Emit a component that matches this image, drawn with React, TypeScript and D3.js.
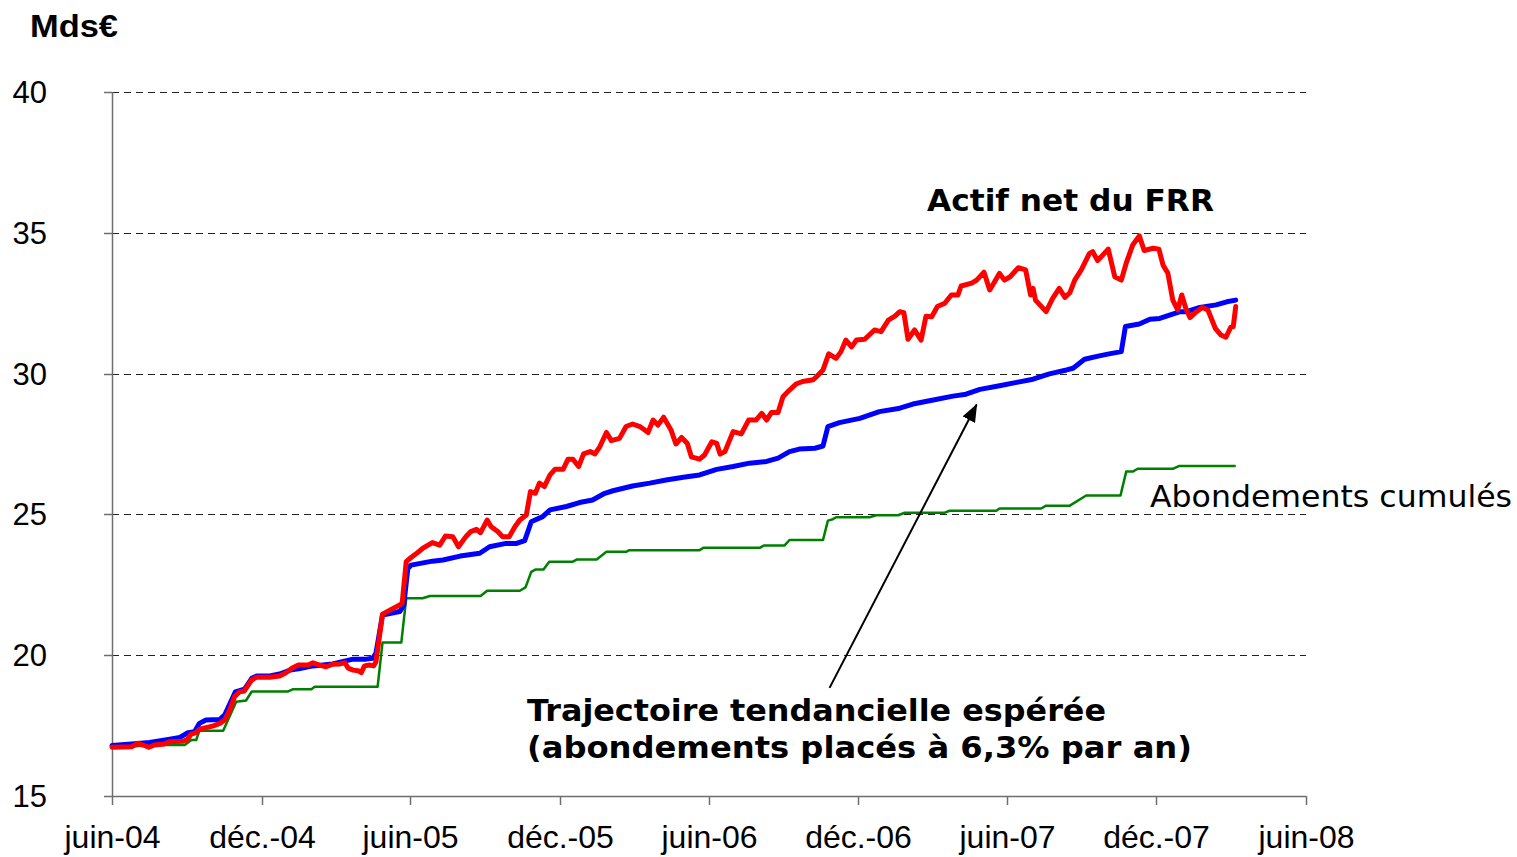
import React from "react";
import * as d3 from "d3";

// Fonds de réserve pour les retraites - Mds€ (lecture approximative du graphique)
const xTickDates = ["2004-06-01", "2004-12-01", "2005-06-01", "2005-12-01", "2006-06-01", "2006-12-01", "2007-06-01", "2007-12-01", "2008-06-01"];
const xTickLabels = ["juin-04", "déc.-04", "juin-05", "déc.-05", "juin-06", "déc.-06", "juin-07", "déc.-07", "juin-08"];
const yTicks = [15, 20, 25, 30, 35, 40];
const gridValues = [20, 25, 30, 35, 40];

// Actif net du FRR (rouge)
const actifNet: [string, number][] = [
  ["2004-06-01", 16.73], ["2004-06-25", 16.75], ["2004-07-03", 16.87], ["2004-07-09", 16.81], ["2004-07-16", 16.73],
  ["2004-07-23", 16.81], ["2004-08-04", 16.85], ["2004-08-10", 16.93], ["2004-08-27", 16.94], ["2004-09-01", 17.01],
  ["2004-09-06", 17.2], ["2004-09-12", 17.25], ["2004-09-16", 17.37], ["2004-10-03", 17.49], ["2004-10-11", 17.58],
  ["2004-10-17", 17.7], ["2004-10-23", 18.05], ["2004-10-29", 18.53], ["2004-11-04", 18.7], ["2004-11-10", 18.73],
  ["2004-11-19", 19.12], ["2004-11-25", 19.22], ["2004-12-11", 19.22], ["2004-12-23", 19.26], ["2004-12-31", 19.38],
  ["2005-01-07", 19.54], ["2005-01-15", 19.65], ["2005-01-27", 19.65], ["2005-02-02", 19.73], ["2005-02-10", 19.65],
  ["2005-02-18", 19.59], ["2005-02-26", 19.68], ["2005-03-07", 19.69], ["2005-03-13", 19.73], ["2005-03-17", 19.54],
  ["2005-03-23", 19.47], ["2005-03-29", 19.45], ["2005-04-02", 19.38], ["2005-04-06", 19.62], ["2005-04-12", 19.65],
  ["2005-04-17", 19.62], ["2005-04-20", 19.77], ["2005-04-28", 21.46], ["2005-05-07", 21.6], ["2005-05-19", 21.78],
  ["2005-05-22", 21.84], ["2005-05-27", 23.32], ["2005-06-02", 23.47], ["2005-06-08", 23.6], ["2005-06-16", 23.79],
  ["2005-06-28", 24.0], ["2005-07-07", 23.91], ["2005-07-14", 24.23], ["2005-07-23", 24.21], ["2005-07-30", 23.85],
  ["2005-08-08", 24.21], ["2005-08-14", 24.39], ["2005-08-21", 24.47], ["2005-08-26", 24.35], ["2005-09-03", 24.8],
  ["2005-09-08", 24.56], ["2005-09-16", 24.39], ["2005-09-22", 24.21], ["2005-09-30", 24.21], ["2005-10-07", 24.56],
  ["2005-10-13", 24.8], ["2005-10-21", 24.98], ["2005-10-26", 25.81], ["2005-11-01", 25.75], ["2005-11-06", 26.11],
  ["2005-11-12", 25.99], ["2005-11-19", 26.4], ["2005-11-25", 26.6], ["2005-12-05", 26.6], ["2005-12-11", 26.96],
  ["2005-12-17", 26.96], ["2005-12-24", 26.7], ["2005-12-30", 27.15], ["2006-01-07", 27.23], ["2006-01-13", 27.15],
  ["2006-01-19", 27.41], ["2006-01-27", 27.91], ["2006-02-02", 27.62], ["2006-02-12", 27.7], ["2006-02-20", 28.12],
  ["2006-02-28", 28.21], ["2006-03-09", 28.12], ["2006-03-19", 27.91], ["2006-03-25", 28.35], ["2006-03-31", 28.17],
  ["2006-04-07", 28.45], ["2006-04-16", 28.0], ["2006-04-22", 27.5], ["2006-04-29", 27.73], ["2006-05-06", 27.52],
  ["2006-05-11", 27.04], ["2006-05-21", 26.96], ["2006-05-27", 27.11], ["2006-06-05", 27.58], ["2006-06-11", 27.52],
  ["2006-06-15", 27.14], ["2006-06-21", 27.23], ["2006-07-01", 27.94], ["2006-07-11", 27.86], ["2006-07-20", 28.35],
  ["2006-07-29", 28.35], ["2006-08-05", 28.59], ["2006-08-11", 28.35], ["2006-08-17", 28.62], ["2006-08-25", 28.62],
  ["2006-08-31", 29.18], ["2006-09-06", 29.36], ["2006-09-16", 29.63], ["2006-09-24", 29.72], ["2006-10-07", 29.78],
  ["2006-10-11", 29.89], ["2006-10-19", 30.13], ["2006-10-26", 30.7], ["2006-11-04", 30.54], ["2006-11-10", 30.78],
  ["2006-11-16", 31.19], ["2006-11-23", 30.95], ["2006-11-29", 31.19], ["2006-12-09", 31.22], ["2006-12-21", 31.55],
  ["2006-12-29", 31.49], ["2007-01-07", 31.9], ["2007-01-15", 32.04], ["2007-01-21", 32.2], ["2007-01-26", 32.16],
  ["2007-01-31", 31.22], ["2007-02-08", 31.55], ["2007-02-16", 31.19], ["2007-02-22", 32.04], ["2007-03-01", 32.02],
  ["2007-03-08", 32.38], ["2007-03-17", 32.5], ["2007-03-25", 32.79], ["2007-04-02", 32.79], ["2007-04-06", 33.11],
  ["2007-04-19", 33.21], ["2007-04-25", 33.32], ["2007-05-04", 33.6], ["2007-05-11", 32.97], ["2007-05-17", 33.26],
  ["2007-05-23", 33.56], ["2007-05-29", 33.32], ["2007-06-05", 33.44], ["2007-06-15", 33.76], ["2007-06-24", 33.68],
  ["2007-06-30", 32.79], ["2007-07-03", 33.03], ["2007-07-06", 32.61], ["2007-07-19", 32.2], ["2007-07-27", 32.67],
  ["2007-08-04", 33.03], ["2007-08-11", 32.71], ["2007-08-17", 32.87], ["2007-08-23", 33.32], ["2007-08-31", 33.68],
  ["2007-09-10", 34.27], ["2007-09-14", 34.33], ["2007-09-20", 34.01], ["2007-10-03", 34.42], ["2007-10-11", 33.44],
  ["2007-10-19", 33.32], ["2007-10-25", 33.92], ["2007-11-02", 34.57], ["2007-11-10", 34.89], ["2007-11-16", 34.37],
  ["2007-11-27", 34.45], ["2007-12-04", 34.42], ["2007-12-09", 33.86], ["2007-12-15", 33.56], ["2007-12-21", 32.61],
  ["2007-12-27", 32.26], ["2008-01-01", 32.79], ["2008-01-06", 32.31], ["2008-01-11", 31.99], ["2008-01-19", 32.2],
  ["2008-01-26", 32.35], ["2008-02-02", 32.26], ["2008-02-11", 31.61], ["2008-02-18", 31.37], ["2008-02-24", 31.29],
  ["2008-03-01", 31.65], ["2008-03-04", 31.67], ["2008-03-07", 32.38],
];

// Trajectoire tendancielle espérée (bleu)
const trajectoire: [string, number][] = [
  ["2004-06-01", 16.79], ["2004-06-25", 16.85], ["2004-07-17", 16.9], ["2004-08-07", 17.0], ["2004-08-23", 17.08],
  ["2004-09-02", 17.25], ["2004-09-10", 17.28], ["2004-09-16", 17.58], ["2004-09-24", 17.7], ["2004-10-11", 17.72],
  ["2004-10-17", 17.88], ["2004-10-30", 18.7], ["2004-11-10", 18.79], ["2004-11-19", 19.18], ["2004-11-25", 19.26],
  ["2004-12-11", 19.26], ["2004-12-23", 19.33], ["2005-01-05", 19.47], ["2005-01-17", 19.53], ["2005-02-02", 19.62],
  ["2005-02-26", 19.69], ["2005-03-23", 19.86], ["2005-04-08", 19.86], ["2005-04-16", 19.89], ["2005-04-20", 20.07],
  ["2005-04-28", 21.43], ["2005-05-19", 21.55], ["2005-05-24", 21.78], ["2005-05-29", 23.08], ["2005-06-02", 23.2],
  ["2005-06-28", 23.34], ["2005-07-11", 23.38], ["2005-08-01", 23.52], ["2005-08-25", 23.62], ["2005-09-06", 23.85],
  ["2005-09-26", 23.97], ["2005-10-09", 23.97], ["2005-10-19", 24.07], ["2005-10-27", 24.74], ["2005-11-10", 24.92],
  ["2005-11-19", 25.16], ["2005-12-09", 25.28], ["2005-12-25", 25.42], ["2006-01-10", 25.51], ["2006-01-25", 25.75],
  ["2006-02-04", 25.84], ["2006-02-28", 26.01], ["2006-03-21", 26.11], ["2006-04-10", 26.22], ["2006-05-01", 26.32],
  ["2006-05-21", 26.4], ["2006-06-11", 26.6], ["2006-07-01", 26.7], ["2006-07-21", 26.82], ["2006-08-11", 26.88],
  ["2006-08-25", 27.0], ["2006-09-08", 27.23], ["2006-09-20", 27.32], ["2006-10-09", 27.35], ["2006-10-19", 27.43],
  ["2006-10-25", 28.12], ["2006-11-08", 28.26], ["2006-12-03", 28.41], ["2006-12-27", 28.65], ["2007-01-21", 28.77],
  ["2007-02-06", 28.92], ["2007-03-03", 29.06], ["2007-03-27", 29.2], ["2007-04-12", 29.27], ["2007-04-29", 29.44],
  ["2007-05-23", 29.57], ["2007-06-13", 29.69], ["2007-07-03", 29.8], ["2007-07-23", 29.99], ["2007-08-13", 30.13],
  ["2007-08-21", 30.19], ["2007-09-04", 30.51], ["2007-09-22", 30.63], ["2007-10-04", 30.7], ["2007-10-19", 30.78],
  ["2007-10-24", 31.67], ["2007-11-10", 31.76], ["2007-11-23", 31.93], ["2007-12-05", 31.96], ["2007-12-17", 32.08],
  ["2007-12-30", 32.2], ["2008-01-07", 32.2], ["2008-01-23", 32.35], ["2008-02-12", 32.44], ["2008-02-25", 32.55],
  ["2008-03-07", 32.61],
];

// Abondements cumulés (vert)
const abondements: [string, number][] = [
  ["2004-06-01", 16.73], ["2004-07-30", 16.81], ["2004-08-29", 16.81], ["2004-09-06", 16.99], ["2004-09-12", 16.99],
  ["2004-09-16", 17.32], ["2004-10-15", 17.32], ["2004-10-31", 18.35], ["2004-11-12", 18.39], ["2004-11-19", 18.71],
  ["2005-01-02", 18.71], ["2005-01-08", 18.79], ["2005-01-31", 18.79], ["2005-02-04", 18.88], ["2005-04-22", 18.88],
  ["2005-04-28", 20.45], ["2005-05-21", 20.45], ["2005-05-27", 22.02], ["2005-06-16", 22.02], ["2005-06-25", 22.1],
  ["2005-08-26", 22.1], ["2005-09-03", 22.29], ["2005-10-13", 22.29], ["2005-10-20", 22.41], ["2005-10-27", 22.96],
  ["2005-11-01", 23.04], ["2005-11-11", 23.04], ["2005-11-18", 23.32], ["2005-12-17", 23.32], ["2005-12-22", 23.4],
  ["2006-01-15", 23.4], ["2006-01-27", 23.67], ["2006-02-20", 23.67], ["2006-02-24", 23.73], ["2006-05-21", 23.73],
  ["2006-05-26", 23.82], ["2006-08-03", 23.82], ["2006-08-08", 23.9], ["2006-09-02", 23.9], ["2006-09-08", 24.09],
  ["2006-10-19", 24.09], ["2006-10-25", 24.78], ["2006-10-31", 24.83], ["2006-11-04", 24.9], ["2006-12-15", 24.9],
  ["2006-12-23", 24.97], ["2007-01-19", 24.97], ["2007-01-27", 25.06], ["2007-03-17", 25.06], ["2007-03-23", 25.13],
  ["2007-05-19", 25.13], ["2007-05-23", 25.21], ["2007-07-13", 25.21], ["2007-07-19", 25.31], ["2007-08-17", 25.31],
  ["2007-09-06", 25.67], ["2007-10-18", 25.67], ["2007-10-25", 26.52], ["2007-11-02", 26.52], ["2007-11-08", 26.62],
  ["2007-12-21", 26.62], ["2007-12-29", 26.72], ["2008-03-07", 26.72],
];

// flèche de l'annotation (date, valeur)
const arrowFrom: [string, number] = ["2006-10-27", 18.84];
const arrowTo: [string, number] = ["2007-04-25", 28.9];

const parse = d3.timeParse("%Y-%m-%d");

export default function App() {
  const width = 1517;
  const height = 857;

  const x = d3.scaleTime()
    .domain([parse("2004-06-01") as Date, parse("2008-06-01") as Date])
    .range([112, 1306]);
  const y = d3.scaleLinear().domain([15, 40]).range([796, 92]);

  const line = d3.line<[string, number]>()
    .x(d => x(parse(d[0]) as Date))
    .y(d => y(d[1]))
    .curve(d3.curveLinear);

  const axisColor = "#6e6e6e";
  const sans = "'Liberation Sans', Arial, sans-serif";
  const verdana = "'DejaVu Sans', Verdana, sans-serif";

  return (
    <svg width={width} height={height} style={{ position: "absolute", left: 0, top: 0, display: "block", background: "#fff" }}>
      <defs>
        <marker id="arrowHead" markerUnits="userSpaceOnUse" markerWidth={18} markerHeight={14}
          viewBox="0 0 18 14" refX={17} refY={7} orient="auto">
          <path d="M0,0 L18,7 L0,14 z" fill="#000" />
        </marker>
      </defs>

      {/* grille pointillée */}
      {gridValues.map(v => (
        <line key={"g" + v} x1={112} x2={1306} y1={Math.round(y(v)) + 0.5} y2={Math.round(y(v)) + 0.5}
          stroke="#222" strokeWidth={1} strokeDasharray="7,5" />
      ))}

      {/* axes */}
      <line x1={112.5} x2={112.5} y1={y(40)} y2={y(15)} stroke={axisColor} strokeWidth={1.5} />
      <line x1={112} x2={1306} y1={Math.round(y(15)) + 0.5} y2={Math.round(y(15)) + 0.5} stroke={axisColor} strokeWidth={1.5} />
      {yTicks.map(v => (
        <g key={"yt" + v}>
          <line x1={104} x2={112} y1={Math.round(y(v)) + 0.5} y2={Math.round(y(v)) + 0.5} stroke={axisColor} strokeWidth={1.5} />
          <text x={47} y={y(v) + 11} textAnchor="end" fontFamily={sans} fontSize={31} fill="#000">{v}</text>
        </g>
      ))}
      {xTickDates.map((d, i) => {
        const px = Math.round(x(parse(d) as Date)) + 0.5;
        return (
          <g key={"xt" + d}>
            <line x1={px} x2={px} y1={796} y2={805} stroke={axisColor} strokeWidth={1.5} />
            <text x={px} y={848} textAnchor="middle" fontFamily={sans} fontSize={32} fill="#000">{xTickLabels[i]}</text>
          </g>
        );
      })}

      {/* séries */}
      <path d={line(abondements) || ""} fill="none" stroke="#008000" strokeWidth={2.5} strokeLinejoin="round" />
      <path d={line(trajectoire) || ""} fill="none" stroke="#0000ff" strokeWidth={5} strokeLinejoin="round" strokeLinecap="round" />
      <path d={line(actifNet) || ""} fill="none" stroke="#ff0000" strokeWidth={5} strokeLinejoin="round" strokeLinecap="round" />

      {/* annotations */}
      <line x1={x(parse(arrowFrom[0]) as Date)} y1={y(arrowFrom[1])}
        x2={x(parse(arrowTo[0]) as Date)} y2={y(arrowTo[1])}
        stroke="#000" strokeWidth={2} markerEnd="url(#arrowHead)" />

      <text x={30} y={37} fontFamily={sans} fontWeight="bold" fontSize={32} textLength={88} lengthAdjust="spacingAndGlyphs">Mds€</text>
      <text x={927} y={211} fontFamily={verdana} fontWeight="bold" fontSize={30} textLength={287} lengthAdjust="spacingAndGlyphs">Actif net du FRR</text>
      <text x={1150} y={507} fontFamily={verdana} fontSize={30} textLength={362} lengthAdjust="spacingAndGlyphs">Abondements cumulés</text>
      <text x={527} y={721} fontFamily={verdana} fontWeight="bold" fontSize={30} textLength={579} lengthAdjust="spacingAndGlyphs">Trajectoire tendancielle espérée</text>
      <text x={527} y={758} fontFamily={verdana} fontWeight="bold" fontSize={30} textLength={665} lengthAdjust="spacingAndGlyphs">(abondements placés à 6,3% par an)</text>
    </svg>
  );
}
